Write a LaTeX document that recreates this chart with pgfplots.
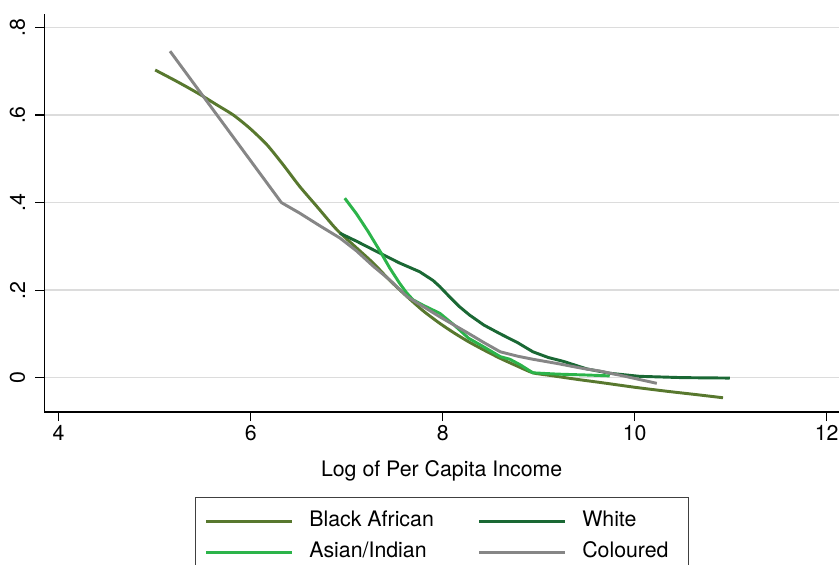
\documentclass[border=0pt]{standalone}
\usepackage{pgfplots}
\pgfplotsset{compat=1.18}
\usepackage{fontspec}
\setmainfont{TeX Gyre Heros}

\definecolor{cBlack}{RGB}{88,120,46}
\definecolor{cWhite}{RGB}{26,104,52}
\definecolor{cAsian}{RGB}{44,180,74}
\definecolor{cColoured}{RGB}{134,134,134}
\definecolor{gridgray}{RGB}{220,220,220}

\newcommand{\lfont}{\fontsize{16}{19}\selectfont}

\begin{document}
\begin{tikzpicture}
\useasboundingbox (-33.2pt,-114pt) rectangle (596pt,309pt);
\begin{axis}[
  scale only axis,
  width=596pt, height=298.5pt,
  xmin=3.85, xmax=12.128,
  ymin=-0.0786, ymax=0.831,
  axis x line*=bottom, axis y line*=left,
  axis line style={-, line width=0.9pt, black},
  xtick={4,6,8,10,12},
  ytick={0,0.2,0.4,0.6,0.8},
  yticklabels={0,.2,.4,.6,.8},
  tick align=outside,
  major tick length=6.75pt,
  tick style={line width=0.9pt, black},
  /pgf/number format/assume math mode=true,
  tick label style={font=\lfont},
  yticklabel style={rotate=90, anchor=south},
  yticklabel shift={4pt},
  ymajorgrids,
  grid style={gridgray, line width=1.1pt},
  xlabel={Log of Per Capita Income},
  xlabel style={font=\lfont, at={(axis description cs:0.5,-0.1608)}, anchor=base},
  legend columns=2,
  legend cell align=left,
  legend image code/.code={\draw[#1, line width=2.2pt] (0pt,0pt) -- (64pt,0pt);},
  legend style={
    at={(axis description cs:0.5,-0.2144)}, anchor=north,
    draw=black!75, line width=0.75pt,
    inner xsep=7.5pt, inner ysep=9.5pt,
    font=\lfont,
    row sep=7.5pt,
    nodes={inner sep=0pt, text height=12pt, text depth=4pt},
    /tikz/every odd column/.append style={column sep=12pt},
  },
  every axis plot/.append style={line width=2.2pt, line join=round},
]
% Black African
\addplot[cBlack, no markers, smooth, tension=0.4] coordinates {
(5.005,0.703) (5.23,0.677) (5.45,0.650) (5.65,0.623) (5.82,0.600)
(5.99,0.570) (6.17,0.532) (6.34,0.486) (6.51,0.437) (6.69,0.391)
(6.86,0.347) (6.93,0.331) (7.10,0.297) (7.28,0.261) (7.45,0.222)
(7.63,0.185) (7.80,0.152) (7.97,0.124) (8.12,0.102) (8.27,0.082)
(8.43,0.063) (8.60,0.044) (8.78,0.026) (8.94,0.011) (9.12,0.005)
(9.40,-0.004) (9.64,-0.011) (10.0,-0.022) (10.33,-0.031) (10.65,-0.039)
(10.92,-0.046)
};
\addlegendentry{\makebox[126.5pt][l]{Black African}}
% White
\addplot[cWhite, no markers] coordinates {
(6.93,0.330) (7.10,0.312) (7.35,0.284) (7.55,0.262) (7.76,0.242)
(7.90,0.222) (7.97,0.208) (8.07,0.185) (8.17,0.163) (8.28,0.143)
(8.43,0.120) (8.60,0.100) (8.78,0.080) (8.94,0.059) (9.10,0.046)
(9.26,0.037) (9.50,0.020) (9.74,0.010) (10.05,0.003) (10.50,0.000)
(10.99,-0.001)
};
\addlegendentry{\makebox[72pt][l]{White}}
% Asian/Indian
\addplot[cAsian, no markers] coordinates {
(6.98,0.410) (7.10,0.375) (7.22,0.335) (7.35,0.288) (7.45,0.250)
(7.55,0.216) (7.62,0.195) (7.69,0.178) (7.80,0.165) (7.97,0.147)
(8.12,0.120) (8.27,0.090) (8.43,0.070) (8.60,0.048) (8.70,0.042)
(8.81,0.029) (8.94,0.011) (9.20,0.008) (9.50,0.006) (9.74,0.004)
};
\addlegendentry{\makebox[126.5pt][l]{Asian/Indian}}
% Coloured
\addplot[cColoured, no markers] coordinates {
(5.16,0.746) (6.32,0.400) (6.51,0.376) (6.72,0.347) (6.93,0.319)
(7.10,0.290) (7.28,0.254) (7.45,0.223) (7.63,0.185) (7.80,0.162)
(7.97,0.139) (8.12,0.120) (8.27,0.101) (8.43,0.080) (8.60,0.059)
(8.78,0.049) (8.94,0.042) (9.20,0.032) (9.46,0.021) (9.64,0.015)
(9.90,0.003) (10.23,-0.013)
};
\addlegendentry{\makebox[72pt][l]{Coloured}}
\end{axis}
\end{tikzpicture}
\end{document}
